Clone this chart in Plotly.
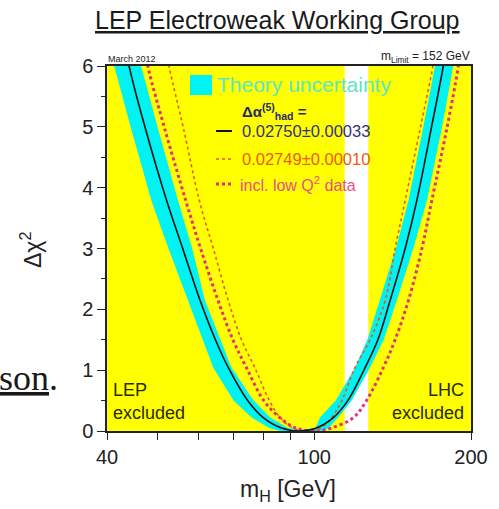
import math
import plotly.graph_objects as go

# ---- data ----
# Delta chi^2 levels (top -> bottom) at which curve positions were read
levels = [6.6, 6.0, 5.0, 3.78, 3.0, 2.14, 1.5, 1.04, 0.5, 0.22, 0.05]

# central fit (0.02750 +- 0.00033), black solid
black_left = [42.8, 44.1, 47.3, 52.1, 55.9, 60.4, 64.6, 68.4, 74.5, 79.8, 86.5]
black_min = 94.0
black_right = [181.0, 176.9, 168.0, 157.3, 149.5, 139.8, 132.5, 125.2, 116.0, 108.8, 101.0]

# 0.02749 +- 0.00010, orange fine dots
orange_left = [51.0, 52.6, 56.0, 60.2, 64.0, 68.4, 72.5, 76.9, 82.0, 86.0, 91.0]
orange_min = 96.0
orange_right = [173.0, 169.0, 160.0, 149.4, 143.0, 136.8, 128.0, 119.7, 113.0, 108.0, 103.0]

# incl. low Q^2 data, pink large dots
pink_left = [46.5, 47.9, 51.5, 56.7, 60.5, 65.4, 69.8, 74.1, 80.0, 85.9, 92.0]
pink_min = 101.0
pink_right = [193.0, 189.1, 180.0, 168.1, 161.0, 151.6, 143.0, 135.7, 126.0, 118.9, 108.0]

# theory uncertainty band edges
band_outer_left = [40.0, 41.3, 44.4, 48.7, 52.5, 57.3, 61.0, 64.0, 70.0, 75.8, 82.0]
band_inner_left = [45.3, 46.5, 50.0, 54.8, 58.3, 61.7, 66.0, 69.4, 76.5, 82.3, 89.0]
band_inner_right = [174.5, 170.6, 162.0, 151.6, 143.5, 133.7, 126.5, 119.7, 110.0, 102.6, 100.5]
band_outer_right = [189.0, 184.9, 176.0, 164.5, 155.0, 144.0, 136.0, 127.9, 118.0, 111.1, 106.5]
band_floor = [86.0, 104.0]   # band touches 0 between these masses
band_tip = (95.0, 0.02)      # inner edges meet here

# exclusion regions (GeV)
x_range = [40, 200]
allowed_window = [114.4, 127.0]
y_range = [0, 6]

x_ticks = [40, 50, 60, 70, 80, 90, 100, 200]
x_ticktext = ["40", "", "", "", "", "", "100", "200"]
y_ticks = [0, 1, 2, 3, 4, 5, 6]

FONT = "Liberation Sans, Arial, sans-serif"

up = levels[::-1]


def curve(left, mn, right):
    xs = list(left) + [mn] + list(right)[::-1]
    ys = list(levels) + [0.0] + up
    return xs, ys


fig = go.Figure()

# white allowed window
fig.add_trace(go.Scatter(
    x=[allowed_window[0], allowed_window[1], allowed_window[1], allowed_window[0]],
    y=[y_range[0], y_range[0], y_range[1], y_range[1]],
    fill="toself", fillcolor="white", line=dict(width=0), mode="lines",
    hoverinfo="skip", showlegend=False))

# band polygon
bx = (band_outer_left + [band_floor[0], band_floor[1]] + band_outer_right[::-1]
      + band_inner_right + [band_tip[0]] + band_inner_left[::-1])
by = (levels + [0.0, 0.0] + up + levels + [band_tip[1]] + up)
fig.add_trace(go.Scatter(x=bx, y=by, fill="toself", fillcolor="#00f2f2",
                         line=dict(width=0), mode="lines", hoverinfo="skip",
                         showlegend=False))

ox, oy = curve(orange_left, orange_min, orange_right)
fig.add_trace(go.Scatter(x=ox, y=oy, mode="lines", line=dict(color="#e65a10", width=1.6, dash="dot", shape="spline"),
                         showlegend=False))
px_, py_ = curve(pink_left, pink_min, pink_right)
fig.add_trace(go.Scatter(x=px_, y=py_, mode="lines", line=dict(color="#e8307a", width=3, dash="dot", shape="spline"),
                         showlegend=False))
kx, ky = curve(black_left, black_min, black_right)
fig.add_trace(go.Scatter(x=kx, y=ky, mode="lines", line=dict(color="#111111", width=1.6, shape="spline"),
                         showlegend=False))


# reference-picture pixel -> paper coordinates (plot area spans x 107..471, y 66..431)
def px2paper_x(p):
    return (p - 107) / 364.0


def px2paper_y(p):
    return (431 - p) / 365.0


def note(text, xp, yp, size, color, xanchor="left", family=FONT, **kw):
    return dict(text=text, x=px2paper_x(xp), y=px2paper_y(yp), xref="paper", yref="paper",
                xanchor=xanchor, yanchor=kw.pop("yanchor", "middle"), showarrow=False,
                font=dict(family=family, size=size, color=color), **kw)


ann = [
    note("<u>LEP Electroweak Working Group</u>", 277, 20, 25, "#1a1a1a", xanchor="center"),
    note("March 2012", 106, 59, 9, "#222"),
    note("m<sub>Limit</sub> = 152 GeV", 472, 57, 12, "#222", xanchor="right"),
    note("Theory uncertainty", 215, 84, 21, "#5ee6c6"),
    note("<b>Δα<sup>(5)</sup><sub>had</sub> =</b>", 240, 111, 15, "#2a2a6a"),
    note("0.02750±0.00033", 240, 131, 16.5, "#33337a"),
    note("0.02749±0.00010", 240, 159, 16.5, "#ee5a10"),
    note("incl. low Q<sup>2</sup> data", 238, 184, 16, "#e8508e"),
    note("LEP<br>excluded", 111, 425, 18, "#2a2a10", yanchor="bottom", align="left"),
    note("LHC<br>excluded", 466, 425, 18, "#2a2a10", xanchor="right", yanchor="bottom", align="right"),
    note("Δχ<sup>2</sup>", 31, 250, 23, "#222", xanchor="center", textangle=-90),
    note("m<sub>H</sub> [GeV]", 288, 490, 23, "#222", xanchor="center"),
    note("<u>son</u>.", -3, 378, 36, "#1a1a1a", family="Liberation Serif, serif"),
]

shapes = [
    dict(type="rect", xref="paper", yref="paper", x0=px2paper_x(190), x1=px2paper_x(212),
         y0=px2paper_y(95), y1=px2paper_y(75), fillcolor="#00f2f2", line=dict(width=0)),
    dict(type="line", xref="paper", yref="paper", x0=px2paper_x(216), x1=px2paper_x(232),
         y0=px2paper_y(131), y1=px2paper_y(131), line=dict(color="#111", width=2)),
    dict(type="line", xref="paper", yref="paper", x0=px2paper_x(216), x1=px2paper_x(232),
         y0=px2paper_y(159), y1=px2paper_y(159), line=dict(color="#e65a10", width=1.6, dash="dot")),
    dict(type="line", xref="paper", yref="paper", x0=px2paper_x(216), x1=px2paper_x(232),
         y0=px2paper_y(184), y1=px2paper_y(184), line=dict(color="#e8307a", width=3, dash="dot")),
]

fig.update_layout(
    width=499, height=509,
    margin=dict(l=107, r=28, t=66, b=78, autoexpand=False),
    paper_bgcolor="white", plot_bgcolor="#ffff00",
    annotations=ann, shapes=shapes, showlegend=False,
    font=dict(family=FONT, color="#222"),
)
fig.update_xaxes(type="log", autorange=False, range=[math.log10(x_range[0]), math.log10(x_range[1])],
                 tickmode="array", tickvals=x_ticks, ticktext=x_ticktext,
                 ticks="outside", ticklen=7, tickwidth=1.2, tickcolor="#222", showgrid=False, zeroline=False,
                 showline=True, linecolor="#222", linewidth=1.5, mirror=True, automargin=False,
                 tickfont=dict(size=20, family=FONT, color="#222"))
fig.update_yaxes(range=y_range, autorange=False, tickvals=y_ticks, ticks="outside", ticklen=8, tickwidth=1.2,
                 tickcolor="#222", showgrid=False, zeroline=False, showline=True, linecolor="#222", linewidth=1.5,
                 mirror=True, automargin=False,
                 tickfont=dict(size=20, family=FONT, color="#222"),
                 minor=dict(dtick=0.5, ticks="outside", ticklen=4, tickcolor="#222", showgrid=False))

fig.write_html("out.html", config={"displayModeBar": False},
               post_script="document.body.style.margin='0';")
